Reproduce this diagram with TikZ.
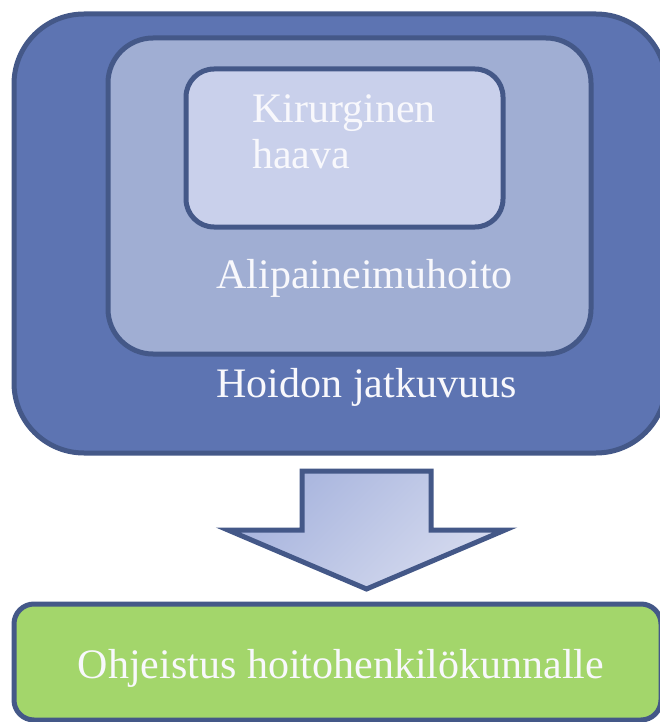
\documentclass[tikz,border=0pt]{standalone}
\usepackage{fontspec}
\setmainfont{Liberation Serif}
\definecolor{outerfill}{RGB}{93,116,178}
\definecolor{midfill}{RGB}{160,174,211}
\definecolor{innerfill}{RGB}{201,208,235}
\definecolor{edge}{RGB}{68,88,136}
\definecolor{greenfill}{RGB}{163,214,107}
\definecolor{arrowdark}{RGB}{166,179,221}
\definecolor{arrowlight}{RGB}{214,219,239}
\definecolor{txt}{RGB}{248,248,252}
\begin{document}
\begin{tikzpicture}[x=1pt,y=-1pt,
  box/.style={draw=edge, line width=5pt, rectangle, inner sep=0pt},
  lbl/.style={text=txt, font=\fontsize{42}{52}\selectfont, inner sep=0pt}]
\useasboundingbox (0,0) rectangle (659,722);
\node[box, fill=outerfill, rounded corners=70pt, minimum width=652pt, minimum height=439pt] (outer) at (340,233.5) {};
\node[box, fill=midfill, rounded corners=45pt, minimum width=483pt, minimum height=316pt] (middle) at (349.5,196) {};
\node[box, fill=innerfill, rounded corners=28pt, minimum width=317pt, minimum height=158pt] (inner) at (344.5,148) {};
\node[box, fill=greenfill, rounded corners=20pt, minimum width=647pt, minimum height=116pt] (green) at (337.5,662) {};
\node[lbl, anchor=base west] (k1) at (252,123) {Kirurginen};
\node[lbl, anchor=base west] (k2) at (252,168) {haava};
\node[lbl, anchor=base] (ali) at (364.5,288) {Alipaineimuhoito};
\node[lbl, anchor=base] (hoi) at (366.5,397) {Hoidon jatkuvuus};
\node[lbl, anchor=base] (ohj) at (341,678) {Ohjeistus hoitohenkilökunnalle};
\coordinate (tip) at (366.5,589);
\draw[draw=edge, line width=5pt, line join=miter, top color=arrowdark, bottom color=arrowlight, shading angle=45]
  (302,471) -- (431,471) -- (431,530) -- (505,530) -- (tip) -- (228,530) -- (302,530) -- cycle;
\end{tikzpicture}
\end{document}
